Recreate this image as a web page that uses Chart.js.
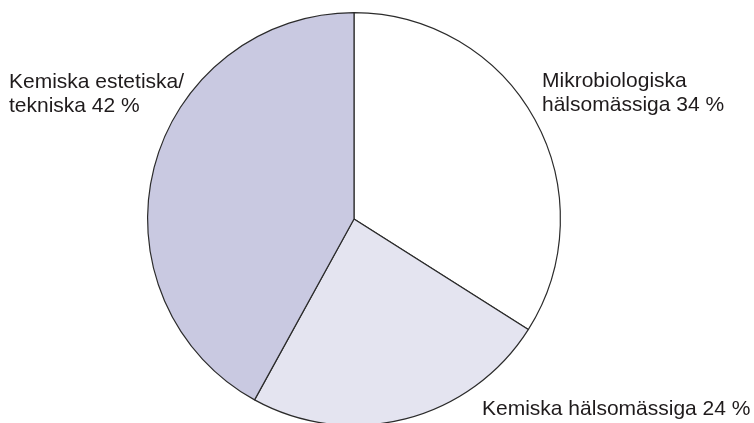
<!DOCTYPE html>
<html>
<head>
<meta charset="utf-8">
<script src="https://cdn.jsdelivr.net/npm/chart.js@4/dist/chart.umd.min.js"></script>
<style>
  html, body { margin: 0; padding: 0; background: #fff; overflow: hidden; }
  #wrap { width: 754px; height: 440px; }
</style>
</head>
<body>
<div id="wrap"><canvas id="pie" width="754" height="440"></canvas></div>
<script>
// Pie data (clockwise from top)
const categories = ['Mikrobiologiska hälsomässiga', 'Kemiska hälsomässiga', 'Kemiska estetiska/tekniska'];
const shares = [34, 24, 42];
const sliceColors = ['#ffffff', '#e4e4f0', '#c9c9e1'];

// Label text lines, one entry per slice
const labelLines = [
  ['Mikrobiologiska', 'hälsomässiga 34 %'],
  ['Kemiska hälsomässiga 24 %'],
  ['Kemiska estetiska/', 'tekniska 42 %']
];
// where each label sits (left x, first baseline y)
const labelPos = [
  { x: 542, y: 87 },
  { x: 482, y: 415 },
  { x: 9, y: 88 }
];

const sliceLabels = {
  id: 'sliceLabels',
  afterDraw(chart) {
    const ctx = chart.ctx;
    ctx.save();
    ctx.fillStyle = '#1f1b1c';
    ctx.font = '21px "Liberation Sans", Arial, sans-serif';
    ctx.textAlign = 'left';
    ctx.textBaseline = 'alphabetic';
    labelLines.forEach((lines, i) => {
      lines.forEach((line, j) => {
        ctx.fillText(line, labelPos[i].x, labelPos[i].y + j * 24);
      });
    });
    ctx.restore();
  }
};

new Chart(document.getElementById('pie'), {
  type: 'pie',
  data: {
    labels: categories,
    datasets: [{
      data: shares,
      backgroundColor: sliceColors,
      borderColor: '#2b2b2b',
      borderWidth: 1.2
    }]
  },
  options: {
    responsive: false,
    animation: false,
    rotation: 0,
    layout: {
      padding: { left: 147, right: 193, top: 12, bottom: 14 }
    },
    plugins: {
      legend: { display: false },
      tooltip: { enabled: false }
    }
  },
  plugins: [sliceLabels]
});
</script>
</body>
</html>
